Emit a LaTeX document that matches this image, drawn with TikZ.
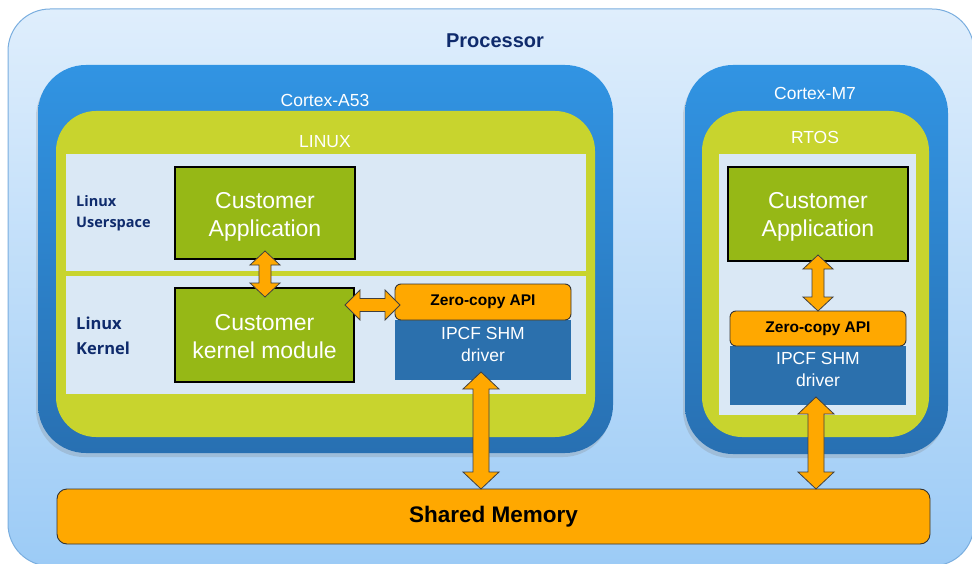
\documentclass[tikz,border=0pt]{standalone}
\usepackage{fontspec}
\setmainfont{Liberation Sans}
\newfontfamily\labelfont{Open Sans}
\usetikzlibrary{calc,shadows}
\definecolor{procTop}{HTML}{DFEEFC}
\definecolor{procBot}{HTML}{9CCBF6}
\definecolor{procLine}{HTML}{7AAEDF}
\definecolor{cortexTop}{HTML}{3194E3}
\definecolor{cortexBot}{HTML}{2870B2}
\definecolor{osGreen}{HTML}{C8D42E}
\definecolor{panelBg}{HTML}{DAE8F5}
\definecolor{appGreen}{HTML}{96B816}
\definecolor{amber}{HTML}{FFA800}
\definecolor{drvBlue}{HTML}{2B70AD}
\definecolor{navy}{HTML}{0F2B6C}
\tikzset{
  blk/.style={anchor=north west, inner sep=0pt, outer sep=0pt},
  procbox/.style={blk, draw=procLine, line width=1pt, rounded corners=42pt, top color=procTop, bottom color=procBot},
  cortexbox/.style={blk, rounded corners=48pt, top color=cortexTop, bottom color=cortexBot,
     drop shadow={shadow xshift=-2pt, shadow yshift=-4pt, opacity=0.25}},
  osbox/.style={blk, rounded corners=40pt, fill=osGreen},
  panelbox/.style={blk, fill=panelBg},
  appbox/.style={blk, draw=black, line width=2pt, fill=appGreen},
  apptext/.style={text=white, align=center, inner sep=0pt, font=\fontsize{23}{28}\selectfont},
  zcbox/.style={blk, draw=black!80, line width=0.9pt, rounded corners=6pt, fill=amber,
     font=\bfseries\fontsize{15.5}{18}\selectfont},
  drvbox/.style={blk, fill=drvBlue},
  drvtext/.style={text=white, align=center, font=\fontsize{17.5}{22}\selectfont, inner sep=0pt},
  membox/.style={blk, draw=black!80, line width=0.9pt, rounded corners=10pt, fill=amber},
  whitelabel/.style={text=white, font=\fontsize{17.5}{21}\selectfont, inner sep=0pt},
  layerlabel/.style={anchor=west, text=navy, align=left, inner sep=0pt},
  blockarrow/.style={fill=amber, draw=black!75, line width=0.8pt, line join=miter}
}
% vertical double block arrow: #1 top tip, #2 bottom tip, #3 shaft half, #4 head half, #5 head length
\newcommand{\dblV}[5]{%
  \draw[blockarrow] let \p1=#1, \p2=#2 in
    (\x1,\y1) -- (\x1+#4pt,\y1-#5pt) -- (\x1+#3pt,\y1-#5pt) -- (\x1+#3pt,\y2+#5pt)
    -- (\x1+#4pt,\y2+#5pt) -- (\x1,\y2) -- (\x1-#4pt,\y2+#5pt) -- (\x1-#3pt,\y2+#5pt)
    -- (\x1-#3pt,\y1-#5pt) -- (\x1-#4pt,\y1-#5pt) -- cycle;}
% horizontal double block arrow: #1 left tip, #2 right tip
\newcommand{\dblH}[5]{%
  \draw[blockarrow] let \p1=#1, \p2=#2 in
    (\x1,\y1) -- (\x1+#5pt,\y1+#4pt) -- (\x1+#5pt,\y1+#3pt) -- (\x2-#5pt,\y1+#3pt)
    -- (\x2-#5pt,\y1+#4pt) -- (\x2,\y1) -- (\x2-#5pt,\y1-#4pt) -- (\x2-#5pt,\y1-#3pt)
    -- (\x1+#5pt,\y1-#3pt) -- (\x1+#5pt,\y1-#4pt) -- cycle;}
\begin{document}
\begin{tikzpicture}[x=1pt,y=-1pt]
\useasboundingbox (0,0) rectangle (972,564);
% processor
\node[procbox, minimum width=966pt, minimum height=557pt] (proc) at (8,9) {};
\node[text=navy, font=\bfseries\fontsize{20}{24}\selectfont, inner sep=0pt] (ptitle) at (495,41) {Processor};
% cortex boxes
\node[cortexbox, minimum width=575pt, minimum height=388pt] (a53) at (38,65) {};
\node[cortexbox, minimum width=263pt, minimum height=389pt] (m7) at (685,65) {};
\node[whitelabel] (a53t) at (325,100) {Cortex-A53};
\node[whitelabel] (m7t) at (815,93) {Cortex-M7};
% OS boxes
\node[osbox, minimum width=539pt, minimum height=326pt] (linux) at (56,111) {};
\node[osbox, minimum width=227pt, minimum height=326pt] (rtos) at (702,111) {};
\node[whitelabel] (linuxt) at (325,142) {LINUX};
\node[whitelabel] (rtost) at (815,137) {RTOS};
% panels
\node[panelbox, minimum width=520pt, minimum height=117pt] (user) at (66,154) {};
\node[panelbox, minimum width=520pt, minimum height=118pt] (kern) at (66,276) {};
\node[panelbox, minimum width=197pt, minimum height=261pt] (rpanel) at (719,154) {};
% layer labels
\node[layerlabel, font=\labelfont\bfseries\fontsize{14.5}{21}\selectfont] (userl) at (76,213.5) {Linux\\Userspace};
\node[layerlabel, font=\labelfont\bfseries\fontsize{16.5}{25}\selectfont] (kernl) at (76,335.5) {Linux\\Kernel};
% applications
\node[appbox, minimum width=180pt, minimum height=92pt] (appL) at (175,167) {};
\node[apptext] (appLt) at ($(appL.center)+(0,4)$) {Customer\\Application};
\node[appbox, minimum width=179pt, minimum height=94pt] (kmod) at (175,288) {};
\node[apptext] (kmodt) at ($(kmod.center)+(0,2)$) {Customer\\kernel module};
\node[appbox, minimum width=180pt, minimum height=94pt] (appR) at (728,167) {};
\node[apptext] (appRt) at ($(appR.center)+(0,3)$) {Customer\\Application};
% drivers
\node[drvbox, minimum width=176pt, minimum height=60pt] (drvL) at (395,320) {};
\node[drvtext] (drvLt) at (483,344) {IPCF SHM\\driver};
\node[zcbox, minimum width=176pt, minimum height=36pt] (zcL) at (395,284) {Zero-copy API};
\node[drvbox, minimum width=176pt, minimum height=59pt] (drvR) at (730,346) {};
\node[drvtext] (drvRt) at (818,369) {IPCF SHM\\driver};
\node[zcbox, minimum width=176pt, minimum height=35pt] (zcR) at (730,311) {Zero-copy API};
% shared memory
\node[membox, minimum width=873pt, minimum height=55pt, font=\bfseries\fontsize{22.5}{27}\selectfont] (mem) at (57,489) {Shared Memory};
% arrows
\dblV{($(appL.south)+(0,-8)$)}{($(kmod.north)+(0,9)$)}{6}{15}{14}
\dblH{($(kmod.north east)+(-9,17)$)}{($(zcL.west)+(5,0)$)}{6.5}{15}{15}
\dblV{($(drvL.south)+(-2,-8)$)}{($(mem.north west)+(424,0)$)}{8}{18}{17}
\dblV{($(appR.south)+(0,-6)$)}{(zcR.north)}{6}{15}{14}
\dblV{($(drvR.south)+(-2,-8)$)}{($(mem.north west)+(759,0)$)}{8}{18}{17}
\end{tikzpicture}
\end{document}
